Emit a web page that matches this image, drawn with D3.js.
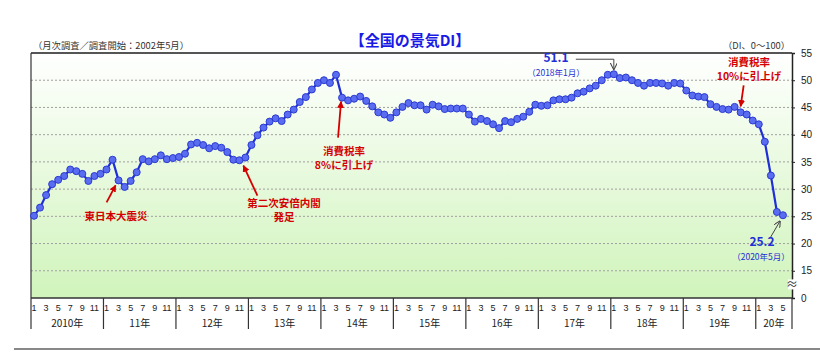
<!DOCTYPE html>
<html>
<head>
<meta charset="utf-8">
<script src="https://cdn.jsdelivr.net/npm/d3@7"></script>
<style>
  body { margin: 0; background: #fff; }
  svg { display: block; font-family: "Noto Sans CJK JP", "Noto Sans", sans-serif; }
</style>
</head>
<body>
<div id="chart"></div>
<script>
// 全国の景気DI, monthly, 2010年1月 - 2020年5月
const yearLabels = ['2010年', '11年', '12年', '13年', '14年', '15年', '16年', '17年', '18年', '19年', '20年']
const monthTicks = [1, 3, 5, 7, 9, 11]
const yTicks = [55, 50, 45, 40, 35, 30, 25, 20, 15]
const gridValues = [50, 45, 40, 35, 30, 25, 20, 15]

const di2010 = [25.1, 26.6, 28.9, 30.9, 31.7, 32.4, 33.6, 33.3, 32.8, 31.5, 32.4, 32.8]
const di2011 = [33.6, 35.4, 31.6, 30.4, 31.5, 33.1, 35.5, 35.1, 35.5, 36.2, 35.5, 35.7]
const di2012 = [35.9, 36.5, 38.2, 38.5, 38.1, 37.5, 37.9, 37.6, 36.8, 35.4, 35.3, 35.8]
const di2013 = [38.1, 39.9, 41.3, 42.4, 43.0, 42.5, 43.7, 44.6, 46.0, 46.9, 48.3, 49.5]
const di2014 = [50.0, 49.5, 51.0, 46.8, 46.3, 46.6, 47.0, 46.2, 45.2, 44.1, 43.7, 43.1]
const di2015 = [44.1, 45.1, 45.8, 45.4, 45.4, 44.6, 45.5, 45.2, 44.7, 44.8, 44.8, 44.8]
const di2016 = [43.7, 42.4, 42.9, 42.5, 41.9, 41.2, 42.5, 42.3, 42.9, 43.3, 44.2, 45.5]
const di2017 = [45.3, 45.4, 46.3, 46.5, 46.5, 46.8, 47.6, 47.9, 48.5, 49.0, 50.0, 51.0]
const di2018 = [51.1, 50.4, 50.5, 50.0, 49.5, 49.0, 49.5, 49.5, 49.4, 49.0, 49.5, 49.4]
const di2019 = [48.1, 47.2, 47.0, 46.9, 45.6, 45.1, 44.7, 44.6, 45.1, 44.1, 43.7, 42.6]
const di2020 = [41.9, 38.7, 32.5, 25.8, 25.2]

const values = [].concat(di2010, di2011, di2012, di2013, di2014, di2015, di2016, di2017, di2018, di2019, di2020)
const pts = values.map((v, i) => ({ i, v }))

const width = 820, height = 352
const plot = { left: 31, right: 792, top: 53, bottom: 298 }
const RED = '#d40000', BLUE = '#1f2fd6'

const x = d3.scaleLinear().domain([-0.5, 125.5]).range([plot.left, plot.right])
const y = d3.scaleLinear().domain([10, 55]).range([plot.bottom, plot.top])

const svg = d3.select('#chart').append('svg').attr('width', width).attr('height', height)

const defs = svg.append('defs')
const grad = defs.append('linearGradient').attr('id', 'bg').attr('x1', 0).attr('y1', 0).attr('x2', 0).attr('y2', 1)
grad.append('stop').attr('offset', '0%').attr('stop-color', '#ffffff')
grad.append('stop').attr('offset', '100%').attr('stop-color', '#d0f4bb')

defs.append('marker').attr('id', 'redHead').attr('viewBox', '0 0 10 10')
  .attr('refX', 9).attr('refY', 5).attr('markerWidth', 7).attr('markerHeight', 7)
  .attr('orient', 'auto').attr('markerUnits', 'userSpaceOnUse')
  .append('path').attr('d', 'M0,0 L10,5 L0,10 z').attr('fill', RED)
defs.append('marker').attr('id', 'grayHead').attr('viewBox', '0 0 10 10')
  .attr('refX', 9).attr('refY', 5).attr('markerWidth', 7).attr('markerHeight', 7)
  .attr('orient', 'auto').attr('markerUnits', 'userSpaceOnUse')
  .append('path').attr('d', 'M0,0 L10,5 L0,10').attr('fill', 'none').attr('stroke', '#444').attr('stroke-width', 1.5)

// plot background
svg.append('rect').attr('x', plot.left).attr('y', plot.top)
  .attr('width', plot.right - plot.left).attr('height', plot.bottom - plot.top).attr('fill', 'url(#bg)')

// grid
svg.append('g').selectAll('line').data(gridValues).join('line')
  .attr('x1', plot.left).attr('x2', plot.right).attr('y1', d => y(d)).attr('y2', d => y(d))
  .attr('stroke', '#a0a0a0').attr('stroke-width', 1).attr('stroke-dasharray', '2,2')

// frame
svg.append('line').attr('x1', plot.left).attr('x2', plot.right).attr('y1', plot.top).attr('y2', plot.top)
  .attr('stroke', '#555').attr('stroke-width', 2)
svg.append('line').attr('x1', plot.left).attr('x2', plot.left).attr('y1', plot.top).attr('y2', 329)
  .attr('stroke', '#333').attr('stroke-width', 1.2)

// right axis
const yAxis = svg.append('g').attr('transform', `translate(${plot.right},0)`)
  .call(d3.axisRight(y).tickValues(yTicks).tickSize(3).tickPadding(6))
yAxis.select('.domain').attr('stroke', '#222').attr('stroke-width', 1.5)
yAxis.selectAll('text').attr('fill', '#222').style('font-size', '10px').style('font-family', 'Liberation Sans, Arial, sans-serif')
yAxis.selectAll('line').attr('stroke', '#222')
// zero label sits at the broken baseline
svg.append('text').attr('x', plot.right + 9).attr('y', plot.bottom + 1).attr('dy', '0.32em')
  .attr('fill', '#222').style('font-size', '10px').style('font-family', 'Liberation Sans, Arial, sans-serif').text('0')
svg.append('rect').attr('x', plot.right - 4).attr('y', y(12.5) - 5).attr('width', 8).attr('height', 10).attr('fill', '#fff')
svg.append('text').attr('x', plot.right).attr('y', y(12.5)).attr('dy', '0.35em').attr('text-anchor', 'middle')
  .attr('fill', '#333').style('font-size', '12px').text('≈')

// bottom axis
svg.append('line').attr('x1', plot.left).attr('x2', plot.right).attr('y1', plot.bottom).attr('y2', plot.bottom)
  .attr('stroke', '#333').attr('stroke-width', 1.5)

const monthIdx = d3.range(0, 125).filter(i => monthTicks.includes(i % 12 + 1))
svg.append('g').selectAll('text').data(monthIdx).join('text')
  .attr('x', d => x(d)).attr('y', 308).attr('dy', '0.35em').attr('text-anchor', 'middle')
  .attr('fill', '#222').style('font-size', '9px').style('font-family', 'Liberation Sans, Arial, sans-serif')
  .text(d => d % 12 + 1)

const yearStarts = yearLabels.map((_, k) => k * 12)
svg.append('g').selectAll('line').data(yearStarts.slice(1).concat([126])).join('line')
  .attr('x1', d => x(d - 0.5)).attr('x2', d => x(d - 0.5)).attr('y1', plot.bottom).attr('y2', 329)
  .attr('stroke', '#333').attr('stroke-width', 1.2)
svg.append('g').selectAll('text').data(yearLabels).join('text')
  .attr('x', (d, k) => (x(k * 12 - 0.5) + x(Math.min(k * 12 + 12, 126) - 0.5)) / 2)
  .attr('y', 323).attr('dy', '0.35em').attr('text-anchor', 'middle')
  .attr('fill', '#222').style('font-size', '10px').text(d => d)

// separator at the bottom
svg.append('line').attr('x1', 14).attr('x2', 820).attr('y1', 349).attr('y2', 349)
  .attr('stroke', '#888').attr('stroke-width', 2)

// series
const line = d3.line().x(d => x(d.i)).y(d => y(d.v))
svg.append('path').datum(pts).attr('d', line)
  .attr('fill', 'none').attr('stroke', BLUE).attr('stroke-width', 2.2)
svg.append('g').selectAll('circle').data(pts).join('circle')
  .attr('cx', d => x(d.i)).attr('cy', d => y(d.v)).attr('r', 3.5)
  .attr('fill', '#5a6cf0').attr('stroke', '#2b3bd0').attr('stroke-width', 1)

// titles
svg.append('text').attr('x', 410).attr('y', 41).attr('dy', '0.35em').attr('text-anchor', 'middle')
  .attr('fill', '#1a1ae6').style('font-size', '15px').style('font-weight', 'bold').text('【全国の景気DI】')
svg.append('text').attr('x', 33).attr('y', 46).attr('dy', '0.35em')
  .attr('fill', '#333').style('font-size', '9.3px').text('（月次調査／調査開始：2002年5月）')
svg.append('text').attr('x', 790).attr('y', 46).attr('dy', '0.35em').attr('text-anchor', 'end')
  .attr('fill', '#333').style('font-size', '9.3px').text('（DI、0〜100）')

// annotations (anchored to their data points)
function redNote(lines, cx, cy, from, to) {
  svg.append('line').attr('x1', from[0]).attr('y1', from[1]).attr('x2', to[0]).attr('y2', to[1])
    .attr('stroke', RED).attr('stroke-width', 1.8).attr('marker-end', 'url(#redHead)')
  lines.forEach((t, k) => {
    svg.append('text').attr('x', cx).attr('y', cy + k * 14).attr('dy', '0.35em').attr('text-anchor', 'middle')
      .attr('fill', RED).style('font-size', '10.5px').style('font-weight', 'bold').text(t)
  })
}
const P = i => [x(i), y(values[i])]

const quake = P(14)
redNote(['東日本大震災'], 116, 216, [quake[0] - 12, quake[1] + 22], [quake[0] - 3, quake[1] + 5])
const abe = P(35)
redNote(['第二次安倍内閣', '発足'], 284, 203, [abe[0] + 12, abe[1] + 38], [abe[0] - 2, abe[1] + 8])
const tax8 = P(51)
redNote(['消費税率', '8%に引上げ'], 344, 151, [tax8[0] - 4, tax8[1] + 40], [tax8[0] - 1, tax8[1] + 4])
const tax10 = P(117)
redNote(['消費税率', '10%に引上げ'], 749, 62, [tax10[0] + 3, tax10[1] - 27], [tax10[0], tax10[1] - 6])

const peak = P(96)
svg.append('path').attr('d', `M${peak[0] - 38},${peak[1] - 15} H${peak[0]} V${peak[1] - 5}`)
  .attr('fill', 'none').attr('stroke', '#444').attr('stroke-width', 1).attr('marker-end', 'url(#grayHead)')
svg.append('text').attr('x', 556).attr('y', 58).attr('dy', '0.35em').attr('text-anchor', 'middle')
  .attr('fill', BLUE).style('font-size', '12px').style('font-weight', 'bold').text('51.1')
svg.append('text').attr('x', 556).attr('y', 73).attr('dy', '0.35em').attr('text-anchor', 'middle')
  .attr('fill', BLUE).style('font-size', '8.5px').text('（2018年1月）')

const last = P(124)
svg.append('line').attr('x1', last[0] - 13).attr('y1', last[1] + 23).attr('x2', last[0] - 3).attr('y2', last[1] + 6)
  .attr('stroke', '#444').attr('stroke-width', 1).attr('marker-end', 'url(#grayHead)')
svg.append('text').attr('x', 762).attr('y', 242).attr('dy', '0.35em').attr('text-anchor', 'middle')
  .attr('fill', BLUE).style('font-size', '12px').style('font-weight', 'bold').text('25.2')
svg.append('text').attr('x', 761).attr('y', 257).attr('dy', '0.35em').attr('text-anchor', 'middle')
  .attr('fill', BLUE).style('font-size', '8.5px').text('（2020年5月）')
</script>
</body>
</html>
